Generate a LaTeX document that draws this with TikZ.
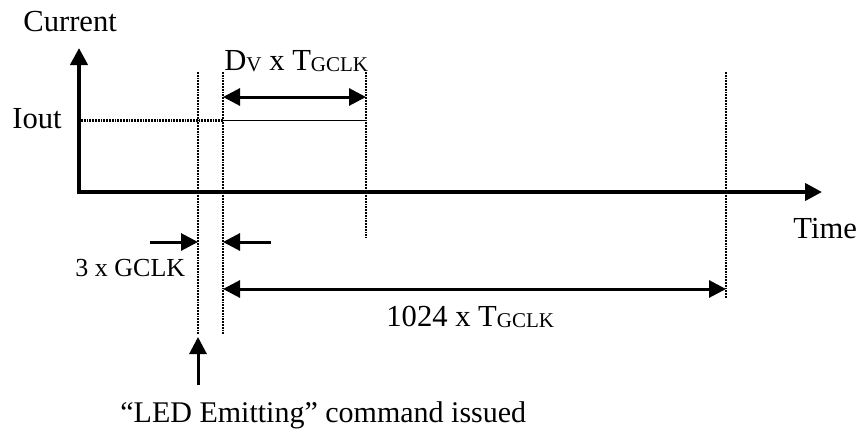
\documentclass[tikz,border=0pt]{standalone}
\usepackage{fontspec}
\setmainfont{Liberation Serif}
\usetikzlibrary{arrows.meta}
\newcommand{\subtxt}[1]{\raisebox{-0.8pt}{\fontsize{10.5}{11}\selectfont #1}}
\begin{document}
\begin{tikzpicture}[x=0.5pt,y=-0.5pt,
  lbl/.style={inner sep=0pt,anchor=base west,font=\fontsize{15.3}{17}\selectfont},
  smalllbl/.style={inner sep=0pt,anchor=base west,font=\fontsize{13}{14}\selectfont},
  axisline/.style={line width=2pt,-{Triangle[length=8.5pt,width=8.5pt]}},
  dimarrow/.style={line width=1.5pt,-{Triangle[length=8.5pt,width=8.5pt]}},
  dimboth/.style={line width=1.5pt,{Triangle[length=8.5pt,width=8.5pt]}-{Triangle[length=8.5pt,width=8.5pt]}},
  guide/.style={line width=1.4pt,dash pattern=on 0.9pt off 0.5pt},
  levelguide/.style={line width=1.1pt,dash pattern=on 0.9pt off 0.5pt},
  pulse/.style={line width=0.7pt}]
\useasboundingbox (0,0) rectangle (863,439);
% axes
\coordinate (origin) at (79,192);
\coordinate (ytip) at (79,48);
\coordinate (xtip) at (822,192);
\draw[axisline] ([yshift=-1pt]origin) -- (ytip);
\draw[axisline] ([xshift=-1pt]origin) -- (xtip);
% labels
\node[lbl] (current) at (23,32) {Current};
\node[lbl] (iout) at (12,128) {Iout};
\node[lbl] (time) at (793,238) {Time};
\node[lbl] (dv) at (224,70) {D\subtxt{V} x T\subtxt{GCLK}};
\node[smalllbl] (three) at (75,276) {3 x GCLK};
\node[lbl] (n1024) at (386,326) {1024 x T\subtxt{GCLK}};
\node[lbl,font=\fontsize{15}{17}\selectfont] (led) at (120,422) {“LED Emitting” command issued};
% guide lines
\coordinate (g1t) at (198,72); \coordinate (g1b) at (198,335);
\coordinate (g2t) at (223,72); \coordinate (g2b) at (223,335);
\coordinate (g3t) at (366,72); \coordinate (g3b) at (366,238);
\coordinate (g4t) at (726,72); \coordinate (g4b) at (726,298);
\draw[guide] (g1t) -- (g1b);
\draw[guide] (g2t) -- (g2b);
\draw[guide] (g3t) -- (g3b);
\draw[guide] (g4t) -- (g4b);
% Iout level
\coordinate (ioutl) at (81,120.5);
\coordinate (pulsel) at (223,120.5);
\coordinate (pulser) at (366,120.5);
\draw[levelguide] (ioutl) -- (pulsel);
\draw[pulse] (pulsel) -- (pulser);
% DV arrow
\coordinate (dvl) at (223,97);
\coordinate (dvr) at (366,97);
\draw[dimboth] (dvl) -- (dvr);
% 3 x GCLK arrows
\coordinate (ga) at (150,242); \coordinate (gat) at (198,242);
\coordinate (gb) at (271,242); \coordinate (gbt) at (223,242);
\draw[dimarrow] (ga) -- (gat);
\draw[dimarrow] (gb) -- (gbt);
% 1024 arrow
\coordinate (la) at (223,289); \coordinate (lb) at (726,289);
\draw[dimboth] (la) -- (lb);
% command arrow
\coordinate (ca) at (198,385); \coordinate (cat) at (198,337);
\draw[dimarrow] (ca) -- (cat);
\end{tikzpicture}
\end{document}
